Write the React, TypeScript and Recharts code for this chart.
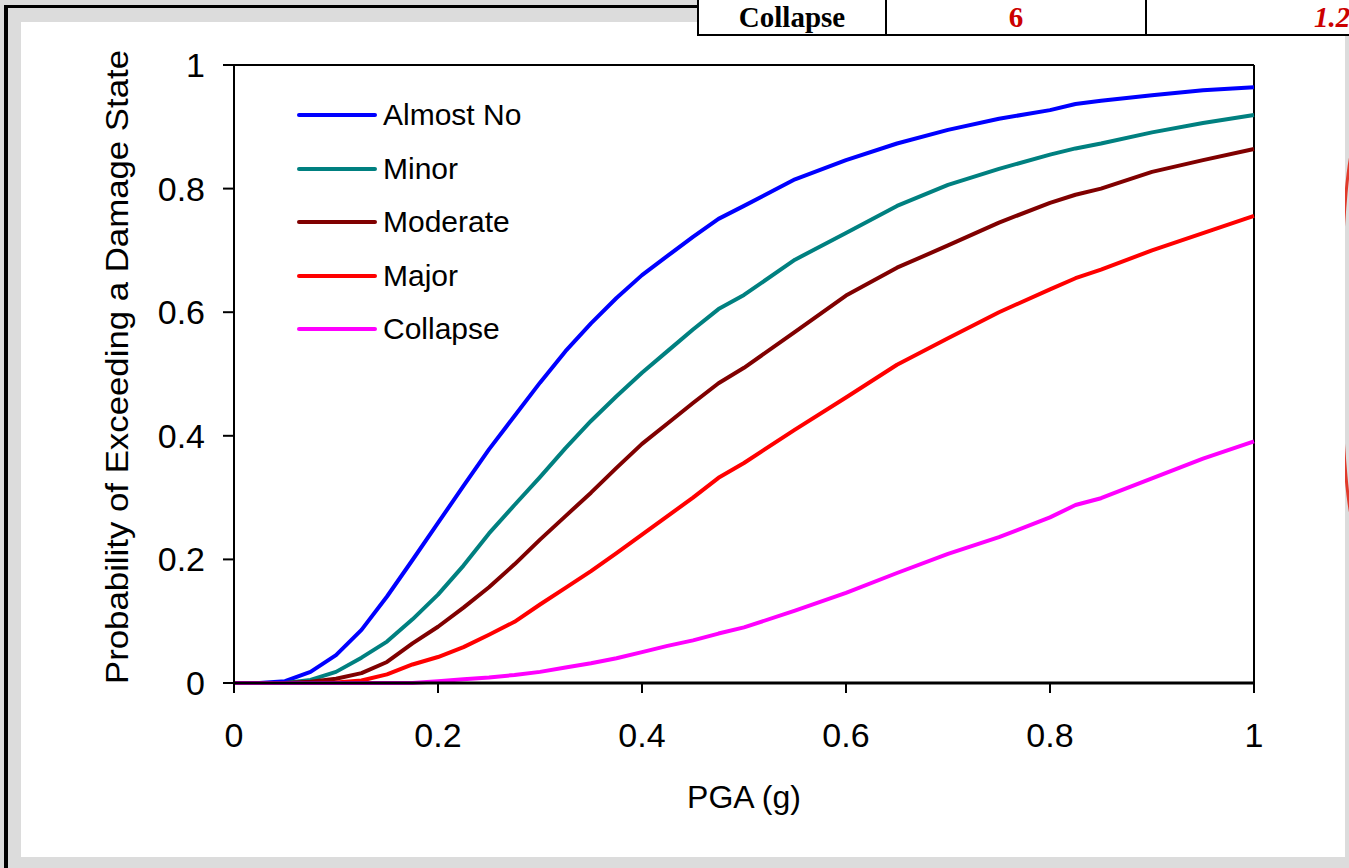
import { LineChart, Line, XAxis, YAxis, ReferenceLine, Label } from 'recharts';

const pga = [
  0, 0.025, 0.05, 0.075, 0.1, 0.125, 0.15, 0.175, 0.2, 0.225, 0.25, 0.275, 0.3, 0.325, 0.35, 0.375,
  0.4, 0.425, 0.45, 0.475, 0.5, 0.55, 0.6, 0.65, 0.7, 0.75, 0.8, 0.825, 0.85, 0.9, 0.95, 1,
];

const almostNo = [
  0, 0, 0.003, 0.018, 0.045, 0.086, 0.14, 0.199, 0.259, 0.319, 0.378, 0.432, 0.486, 0.537, 0.582, 0.623,
  0.66, 0.691, 0.722, 0.751, 0.772, 0.815, 0.846, 0.873, 0.895, 0.913, 0.927, 0.937, 0.942, 0.951, 0.959, 0.964,
];
const minor = [
  0, 0, 0, 0.005, 0.018, 0.041, 0.067, 0.103, 0.143, 0.19, 0.242, 0.288, 0.333, 0.38, 0.424, 0.464,
  0.502, 0.537, 0.572, 0.605, 0.628, 0.685, 0.728, 0.772, 0.806, 0.832, 0.855, 0.865, 0.873, 0.891, 0.906, 0.919,
];
const moderate = [
  0, 0, 0, 0.002, 0.007, 0.016, 0.034, 0.064, 0.091, 0.122, 0.155, 0.192, 0.232, 0.27, 0.308, 0.348,
  0.387, 0.42, 0.453, 0.485, 0.51, 0.568, 0.627, 0.672, 0.708, 0.745, 0.777, 0.79, 0.8, 0.827, 0.846, 0.864,
];
const major = [
  0, 0, 0, 0, 0.001, 0.004, 0.014, 0.03, 0.042, 0.058, 0.078, 0.099, 0.127, 0.154, 0.181, 0.21,
  0.24, 0.27, 0.3, 0.332, 0.356, 0.41, 0.462, 0.515, 0.558, 0.6, 0.637, 0.655, 0.669, 0.7, 0.728, 0.756,
];
const collapse = [
  0, 0, 0, 0, 0, 0, 0, 0, 0.003, 0.006, 0.009, 0.013, 0.018, 0.025, 0.032, 0.04,
  0.05, 0.06, 0.069, 0.08, 0.09, 0.117, 0.146, 0.178, 0.209, 0.236, 0.268, 0.288, 0.299, 0.331, 0.363, 0.391,
];

const seriesNames = ['Almost No', 'Minor', 'Moderate', 'Major', 'Collapse'];
const seriesKeys = ['almostNo', 'minor', 'moderate', 'major', 'collapse'];
const seriesColors = ['#0000ff', '#008080', '#800000', '#ff0000', '#ff00ff'];
const seriesValues = [almostNo, minor, moderate, major, collapse];

const axisTicks = [0, 0.2, 0.4, 0.6, 0.8, 1];

// table fragment visible above the chart
const tableCells = ['Collapse', '6', '1.2'];

const data = pga.map((x, i) => {
  const row: Record<string, number> = { pga: x };
  seriesKeys.forEach((k, s) => {
    row[k] = seriesValues[s][i];
  });
  return row;
});

const FONT = '"Liberation Sans", Arial, sans-serif';
const SERIF = '"Liberation Serif", "Times New Roman", serif';

function YTitle(props: any) {
  const vb = props.viewBox || { x: 134, y: 65, width: 100, height: 618 };
  const cx = vb.x - 17;
  const cy = vb.y + vb.height / 2 - 7;
  return (
    <text
      x={cx}
      y={cy}
      transform={`rotate(-90 ${cx} ${cy})`}
      textAnchor="middle"
      dominantBaseline="central"
      fontSize={32}
      fontFamily={FONT}
      fill="#000"
      textLength={634}
      lengthAdjust="spacingAndGlyphs"
    >
      Probability of Exceeding a Damage State
    </text>
  );
}

function XTitle(props: any) {
  const vb = props.viewBox || { x: 234, y: 683, width: 1020, height: 60 };
  return (
    <text
      x={vb.x + vb.width / 2}
      y={vb.y + 125}
      textAnchor="middle"
      fontSize={32}
      fontFamily={FONT}
      fill="#000"
    >
      PGA (g)
    </text>
  );
}

function ChartLegend() {
  return (
    <div style={{ position: 'absolute', left: 297, top: 0, fontFamily: FONT }}>
      {seriesNames.map((name, i) => (
        <div
          key={name}
          style={{
            position: 'absolute',
            top: 98 + i * 53.5,
            left: 0,
            display: 'flex',
            alignItems: 'center',
            height: 34,
            whiteSpace: 'nowrap',
          }}
        >
          <span
            style={{
              display: 'inline-block',
              width: 80,
              height: 4,
              borderRadius: 2,
              background: seriesColors[i],
            }}
          />
          <span style={{ marginLeft: 6, fontSize: 30, color: '#000' }}>{name}</span>
        </div>
      ))}
    </div>
  );
}

export default function App() {
  const cellStyle = { flexShrink: 0, textAlign: 'center' as const, lineHeight: '34px', height: 34 };
  return (
    <div
      style={{
        position: 'absolute',
        left: 0,
        top: 0,
        width: 1349,
        height: 868,
        background: '#dcdcdc',
        overflow: 'hidden',
      }}
    >
      {/* stray shape from the page, mostly hidden behind the chart */}
      <svg width={1349} height={868} style={{ position: 'absolute', left: 0, top: 0 }}>
        <ellipse cx={1359} cy={335} rx={18.4} ry={200} fill="none" stroke="#e03a2a" strokeWidth={3} />
      </svg>
      <div style={{ position: 'absolute', left: 4, top: 5, width: 4, height: 863, background: '#000' }} />
      <div style={{ position: 'absolute', left: 4, top: 5, width: 693, height: 3, background: '#000' }} />
      <div style={{ position: 'absolute', left: 21, top: 22, width: 1324, height: 835, background: '#fff' }} />

      <div
        style={{
          position: 'absolute',
          left: 697,
          top: 0,
          height: 34,
          width: 900,
          background: '#fff',
          borderLeft: '2px solid #000',
          borderBottom: '2px solid #000',
          fontFamily: SERIF,
          fontWeight: 'bold',
          fontSize: 29,
          display: 'flex',
        }}
      >
        <div style={{ ...cellStyle, width: 186, borderRight: '2px solid #000' }}>{tableCells[0]}</div>
        <div style={{ ...cellStyle, width: 258, color: '#cc0000', borderRight: '2px solid #000' }}>{tableCells[1]}</div>
        <div style={{ ...cellStyle, width: 370, color: '#cc0000', fontStyle: 'italic' }}>{tableCells[2]}</div>
      </div>

      <div style={{ position: 'absolute', left: 0, top: 0 }}>
        <LineChart width={1349} height={868} data={data} margin={{ top: 65, right: 95, left: 134, bottom: 125 }}>
          <XAxis
            dataKey="pga"
            type="number"
            domain={[0, 1]}
            ticks={axisTicks}
            tickFormatter={(v: number) => String(v)}
            height={60}
            axisLine={{ stroke: '#000', strokeWidth: 3 }}
            tickLine={{ stroke: '#000', strokeWidth: 2 }}
            tickSize={10}
            tickMargin={30}
            tick={{ fill: '#000', fontSize: 34, fontFamily: FONT }}
          >
            <Label content={<XTitle />} />
          </XAxis>
          <YAxis
            type="number"
            domain={[0, 1]}
            ticks={axisTicks}
            tickFormatter={(v: number) => String(v)}
            width={100}
            axisLine={{ stroke: '#000', strokeWidth: 2 }}
            tickLine={{ stroke: '#000', strokeWidth: 2 }}
            tickSize={11}
            tickMargin={18}
            tick={{ fill: '#000', fontSize: 34, fontFamily: FONT }}
          >
            <Label content={<YTitle />} />
          </YAxis>
          <ReferenceLine y={1} stroke="#000" strokeWidth={2} />
          <ReferenceLine x={1} stroke="#000" strokeWidth={2} />
          {seriesKeys.map((k, i) => (
            <Line
              key={k}
              dataKey={k}
              name={seriesNames[i]}
              type="linear"
              stroke={seriesColors[i]}
              strokeWidth={4}
              strokeLinejoin="round"
              dot={false}
              activeDot={false}
              isAnimationActive={false}
            />
          ))}
        </LineChart>
        <ChartLegend />
      </div>
    </div>
  );
}
